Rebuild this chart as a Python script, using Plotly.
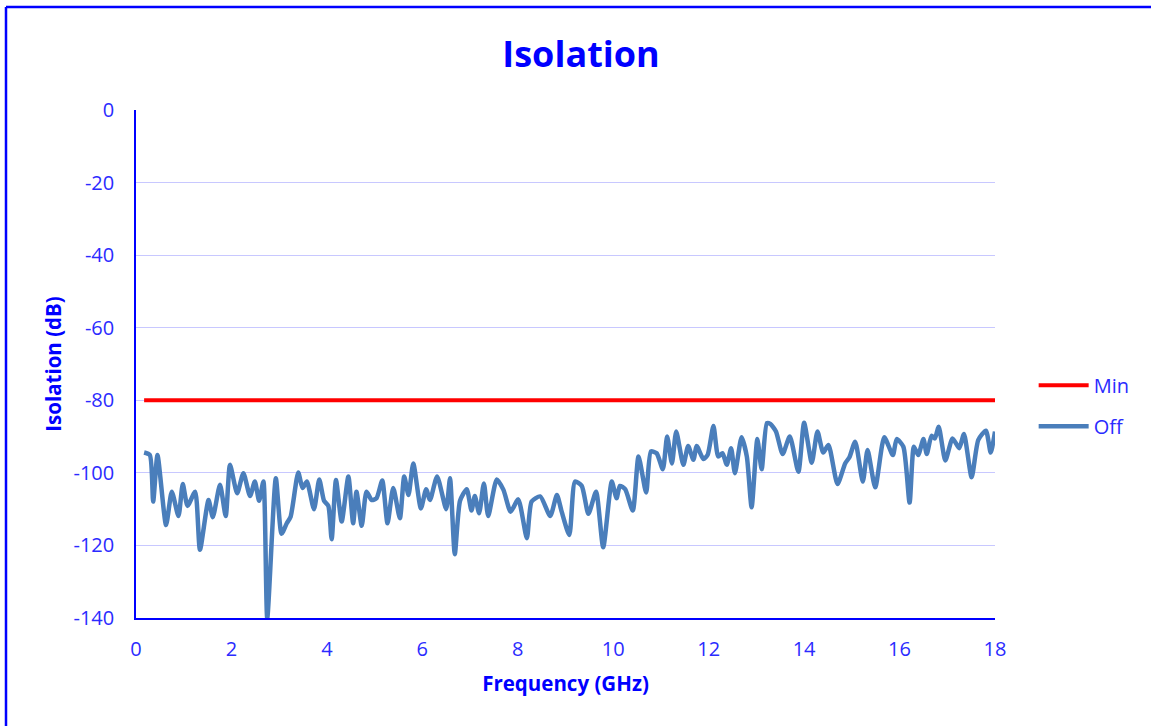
import plotly.graph_objects as go

freq_ghz = [0.17, 0.29, 0.36, 0.45, 0.63, 0.75, 0.89, 0.98, 1.08, 1.24, 1.34, 1.52, 1.61, 1.76, 1.88,
            1.97, 2.12, 2.25, 2.39, 2.49, 2.58, 2.67, 2.75, 2.93, 3.05, 3.16, 3.24, 3.40, 3.49, 3.58,
            3.73, 3.84, 3.94, 4.03, 4.10, 4.19, 4.31, 4.45, 4.55, 4.62, 4.73, 4.83, 4.94, 5.04, 5.16,
            5.27, 5.39, 5.53, 5.62, 5.71, 5.81, 5.97, 6.08, 6.16, 6.31, 6.50, 6.58, 6.68, 6.79, 6.93,
            7.03, 7.10, 7.19, 7.29, 7.38, 7.56, 7.70, 7.85, 8.01, 8.19, 8.29, 8.47, 8.68, 8.82, 8.92,
            9.08, 9.20, 9.34, 9.48, 9.64, 9.79, 9.97, 10.07, 10.14, 10.25, 10.41, 10.53, 10.69, 10.79,
            10.91, 11.04, 11.13, 11.23, 11.32, 11.47, 11.57, 11.68, 11.75, 11.89, 11.98, 12.10, 12.20,
            12.29, 12.38, 12.47, 12.55, 12.69, 12.80, 12.90, 13.02, 13.11, 13.22, 13.29, 13.41, 13.55,
            13.70, 13.88, 14.00, 14.16, 14.28, 14.40, 14.51, 14.70, 14.86, 14.95, 15.07, 15.23, 15.33,
            15.49, 15.68, 15.86, 15.94, 16.08, 16.21, 16.30, 16.39, 16.50, 16.57, 16.67, 16.74, 16.82,
            16.96, 17.11, 17.25, 17.35, 17.51, 17.65, 17.81, 17.91, 18.0]
off_db = [-94.4, -95.1, -107.9, -95.1, -114.4, -105.2, -111.9, -103.1, -109.1, -105.2, -121.2, -107.5,
          -112.2, -103.3, -111.9, -97.8, -105.6, -100.1, -106.4, -102.4, -107.7, -102.4, -140.0, -101.5,
          -116.8, -113.9, -112.1, -99.9, -104.2, -102.4, -110.0, -101.8, -107.7, -109.1, -118.3, -102.0,
          -113.4, -101.0, -113.9, -105.2, -114.6, -105.2, -107.5, -107.0, -102.1, -113.9, -104.2, -112.5,
          -101.0, -106.1, -97.4, -109.8, -104.5, -107.5, -101.0, -110.0, -101.5, -122.4, -107.7, -104.5,
          -110.4, -106.4, -111.1, -102.9, -111.9, -101.8, -104.7, -110.7, -107.3, -118.0, -107.9, -106.5,
          -111.9, -106.1, -110.7, -117.1, -102.4, -103.6, -111.3, -105.2, -120.5, -102.4, -107.0, -103.6,
          -104.5, -110.4, -95.5, -105.4, -94.1, -94.6, -99.0, -90.0, -97.4, -88.6, -97.8, -92.6, -96.4,
          -92.6, -96.2, -95.0, -87.1, -95.5, -94.6, -97.8, -93.2, -100.1, -90.2, -95.5, -109.5, -90.7,
          -99.0, -86.3, -86.5, -88.6, -94.8, -90.0, -99.7, -86.2, -97.2, -88.6, -94.4, -92.3, -103.1,
          -97.4, -95.7, -91.4, -102.4, -93.7, -104.0, -90.2, -95.1, -90.7, -92.8, -108.2, -92.8, -95.1,
          -90.7, -94.8, -89.8, -90.5, -87.3, -96.6, -90.5, -93.2, -89.3, -101.2, -90.9, -88.4, -94.4, -88.6]

min_freq = [0.17, 18.0]
min_db = [-80, -80]

x_ticks = [0, 2, 4, 6, 8, 10, 12, 14, 16, 18]
y_ticks = [0, -20, -40, -60, -80, -100, -120, -140]

FONT = "Open Sans, Noto Sans, sans-serif"
BLUE = "#0000ff"
TICK = "#2b2bff"

fig = go.Figure()
fig.add_trace(go.Scatter(x=min_freq, y=min_db, mode="lines", name="Min",
                         line=dict(color="#ff0000", width=4), legendgroup="a"))
fig.add_trace(go.Scatter(x=freq_ghz, y=off_db, mode="lines", name="Off",
                         line=dict(color="#4a7ebb", width=4.5, shape="spline", smoothing=0.6),
                         legendgroup="b"))

fig.update_layout(
    width=1151, height=726,
    paper_bgcolor="white", plot_bgcolor="white",
    margin=dict(l=136, r=156, t=110, b=108),
    title=dict(text="<b>Isolation</b>", x=581 / 1151, xanchor="center", xref="container",
               y=0.925, yanchor="middle",
               font=dict(family=FONT, size=36, color=BLUE)),
    font=dict(family=FONT, color=TICK, size=20),
    showlegend=True,
    legend=dict(x=1.045, xanchor="left", y=0.418, yanchor="middle",
                font=dict(family=FONT, size=20, color=TICK),
                traceorder="grouped", tracegroupgap=12,
                bgcolor="rgba(0,0,0,0)", itemwidth=50),
    xaxis=dict(range=[0, 18], tickvals=x_ticks, ticktext=[str(v) for v in x_ticks],
               showgrid=False, zeroline=False, showline=True, linecolor=BLUE, linewidth=1.5,
               ticks="", ticklabelstandoff=12, tickfont=dict(family=FONT, size=20, color=TICK),
               title=dict(text="<b>Frequency (GHz)</b>", font=dict(family=FONT, size=20.5, color=BLUE),
                          standoff=16)),
    yaxis=dict(range=[-140, 0], tickvals=y_ticks, ticktext=[str(v) for v in y_ticks],
               showgrid=True, gridcolor="#c8c8ff", gridwidth=1, zeroline=False,
               showline=True, linecolor=BLUE, linewidth=1.5, ticks="", ticklabelstandoff=16,
               tickfont=dict(family=FONT, size=20, color=TICK),
               title=dict(text="<b>Isolation (dB)</b>", font=dict(family=FONT, size=20.5, color=BLUE),
                          standoff=6)),
)

# outer blue frame (top and left edges)
left_x = (6 - 136) / 859
top_y = (618 - 7) / 508
fig.add_shape(type="line", xref="paper", yref="paper", x0=left_x, x1=left_x, y0=-0.5, y1=top_y,
              line=dict(color=BLUE, width=2.5))
fig.add_shape(type="line", xref="paper", yref="paper", x0=left_x, x1=1.5, y0=top_y, y1=top_y,
              line=dict(color=BLUE, width=2.5))

fig.write_html("out.html", config={"displayModeBar": False},
               post_script="document.body.style.margin='0';")
